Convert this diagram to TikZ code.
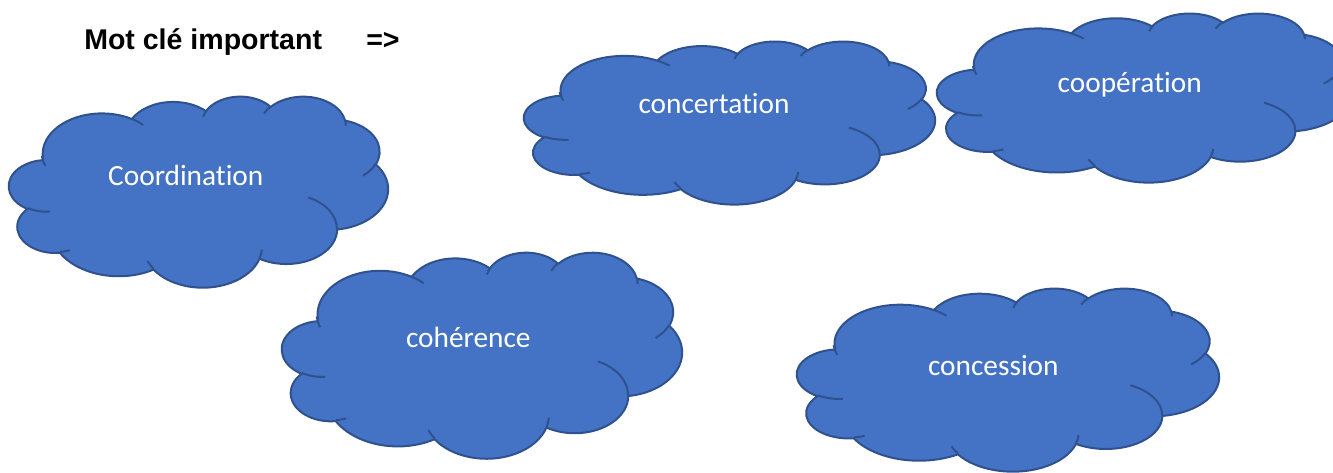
\documentclass[tikz,border=0pt]{standalone}
\usepackage{fontspec}
\setmainfont{Carlito}[Ligatures={NoCommon}]
\newfontfamily\arialf{Liberation Sans}
\definecolor{cloudfill}{HTML}{4472C4}
\definecolor{cloudedge}{HTML}{2F528F}
\pgfmathdeclarefunction{pang}{3}{%
  \begingroup
  \pgfmathparse{atan2((#1)*sin(#3),(#2)*cos(#3))}%
  \pgfmathsmuggle\pgfmathresult
  \endgroup}
\pgfmathdeclarefunction{pdelta}{4}{%
  \begingroup
  \pgfmathsetmacro\pdA{atan2((#1)*sin((#3)+(#4)),(#2)*cos((#3)+(#4)))}%
  \pgfmathsetmacro\pdB{atan2((#1)*sin(#3),(#2)*cos(#3))}%
  \pgfmathsetmacro\pdD{(\pdA)-(\pdB)}%
  \pgfmathparse{ifthenelse((#4)>0, mod((\pdD)+720,360), -mod(720-(\pdD),360))}%
  \pgfmathsmuggle\pgfmathresult
  \endgroup}
\newcommand\carc[4]{arc[x radius=#1, y radius=#2, start angle={pang(#1,#2,#3)}, delta angle={pdelta(#1,#2,#3,#4)}]}
\tikzset{
  cloudbody/.style={fill=cloudfill, draw=cloudedge, line width=1.5pt, line join=round},
  cloudinner/.style={draw=cloudedge, line width=1.5pt},
  cloudtext/.style={text=white, font=\fontsize{22}{26}\selectfont, anchor=base, inner sep=0pt},
  titletext/.style={font=\arialf\bfseries\fontsize{21.4}{25}\selectfont, anchor=base west, inner sep=0pt}
}
\newcommand\officecloud[4]{%
  \begin{scope}[shift={(#1,#2)}, xscale=#3/43.2, yscale=#4/43.2]
    \draw[cloudbody] (3.9,14.37)
      \carc{6.753}{9.19}{-190.48748}{123.78053}
      \carc{5.333}{7.267}{-144.10238}{89.94523}
      \carc{4.365}{5.945}{-145.80792}{99.72302}
      \carc{4.857}{6.595}{-130.98607}{117.24173}
      \carc{5.333}{7.273}{-78.70888}{109.02692}
      \carc{6.775}{9.22}{-46.26725}{130.269}
      \carc{5.785}{7.867}{0.62502}{114.03333}
      \carc{6.752}{9.215}{22.4516}{115.17255}
      \carc{7.72}{10.543}{66.24263}{75.71102}
      \carc{4.36}{5.918}{-274.94208}{146.73557}
      \carc{4.345}{5.945}{-246.8285}{152.51885}
      -- cycle;
    \draw[cloudinner]
      (4.693,26.177) \carc{4.345}{5.945}{86.742}{26.4295}
      (6.928,34.899) \carc{4.36}{5.918}{73.61047}{11.44747}
      (16.478,39.09) \carc{6.752}{9.215}{137.62415}{14.0811}
      (28.827,34.751) \carc{6.752}{9.215}{6.45327}{15.99835}
      (34.129,22.954) \carc{5.785}{7.867}{-70.29235}{70.91737}
      (41.798,15.354) \carc{5.333}{7.273}{30.31803}{27.7515}
      (38.324,5.426) \carc{4.857}{6.595}{-13.74433}{14.8589}
      (29.078,3.952) \carc{4.857}{6.595}{-149.18145}{18.19537}
      (22.141,4.72) \carc{4.365}{5.945}{-163.49427}{17.68635}
      (14.0,5.192) \carc{6.753}{9.19}{-66.70695}{12.31935}
      (4.127,15.789) \carc{6.753}{9.19}{153.33333}{18.83333};
  \end{scope}}
\begin{document}
\begin{tikzpicture}[x=0.75pt, y=-0.75pt]
  \useasboundingbox (0,0) rectangle (1333,473);
  \fill[white] (0,0) rectangle (1333,473);
  \clip (0,0) rectangle (1333,473);
  \node[titletext] (title) at (84,49.3) {Mot clé important};
  \node[titletext] (arrowmark) at (366,49.3) {=>};
  \officecloud{9}{96}{379}{191}
  \officecloud{524}{41}{411}{163}
  \officecloud{937}{13}{414}{169}
  \officecloud{282}{252}{400}{206}
  \officecloud{797}{288}{422}{183}
  \node[cloudtext] (coord) at (185.8,185.7) {Coordination};
  \node[cloudtext] (concert) at (714,113.7) {concertation};
  \node[cloudtext] (coop) at (1129.7,93) {coopération};
  \node[cloudtext] (coher) at (468.3,347.7) {cohérence};
  \node[cloudtext] (conces) at (993.3,375) {concession};
\end{tikzpicture}
\end{document}
